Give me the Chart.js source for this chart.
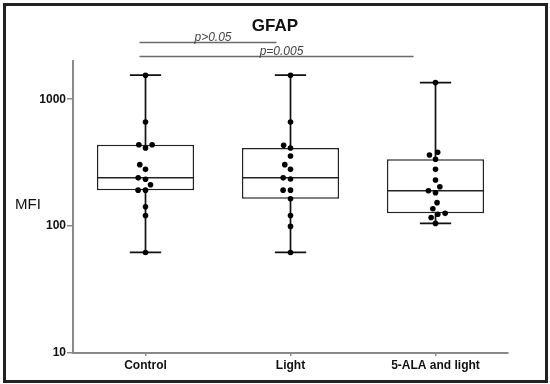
<!DOCTYPE html>
<html>
<head>
<meta charset="utf-8">
<script src="https://cdn.jsdelivr.net/npm/chart.js@4/dist/chart.umd.min.js"></script>
<style>
  body { margin: 0; background: #fff; }
  #wrap { width: 550px; height: 384px; }
</style>
</head>
<body>
<div id="wrap"><canvas id="chart" width="550" height="384"></canvas></div>
<script>
// values (MFI, 15 samples per group)
const groupLabels = ["Control", "Light", "5-ALA and light"];
const controlMFI = [1546, 662, 438, 438, 413, 305, 280, 240, 234, 212, 192, 192, 142, 121, 62];
const lightMFI = [1546, 662, 434, 413, 357, 305, 280, 240, 235, 192, 192, 164, 121, 99.5, 62];
const alaLightMFI = [1352, 382, 363, 336, 280, 231, 204, 190, 183, 153, 137, 126, 124, 117, 105];
const yTickValues = [10, 100, 1000];
const pLabels = ["p>0.05", "p=0.005"];
const pPairs = [[0, 1], [0, 2]];

const groups = [controlMFI, lightMFI, alaLightMFI];
const FONT = "'Liberation Sans', Arial, sans-serif";

// quartiles the (n+1)p way, like the stats package does
function quantile(sorted, p) {
    let pos = (sorted.length + 1) * p - 1;
    pos = Math.min(Math.max(pos, 0), sorted.length - 1);
    let lo = Math.floor(pos), hi = Math.ceil(pos);
    return sorted[lo] + (sorted[hi] - sorted[lo]) * (pos - lo);
}

const stats = groups.map(vals => {
    let s = vals.slice().sort((a, b) => a - b);
    return { min: s[0], q1: quantile(s, 0.25), med: quantile(s, 0.5), q3: quantile(s, 0.75), max: s[s.length - 1] };
});

const boxPlugin = {
    id: "boxParts",
    beforeDatasetsDraw(chart) {
        const x = chart.scales.x, y = chart.scales.y, ctx = chart.ctx;
        const catW = x.width / groupLabels.length;
        ctx.save();
        ctx.strokeStyle = "#111";
        ctx.lineWidth = 1.7;
        stats.forEach((s, g) => {
            let px = x.getPixelForValue(g);
            let capW = catW * 0.108;
            ctx.beginPath();
            ctx.moveTo(px, y.getPixelForValue(s.max));
            ctx.lineTo(px, y.getPixelForValue(s.min));
            [s.max, s.min].forEach(v => {
                let py = y.getPixelForValue(v);
                ctx.moveTo(px - capW, py);
                ctx.lineTo(px + capW, py);
            });
            ctx.stroke();
        });
        ctx.restore();
    },
    afterDatasetDraw(chart, args) {
        if (args.index !== 3) return;
        const y = chart.scales.y, ctx = chart.ctx;
        ctx.save();
        ctx.strokeStyle = "#222";
        ctx.lineWidth = 1.5;
        args.meta.data.forEach((bar, g) => {
            let py = y.getPixelForValue(stats[g].med);
            ctx.beginPath();
            ctx.moveTo(bar.x - bar.width / 2, py);
            ctx.lineTo(bar.x + bar.width / 2, py);
            ctx.stroke();
        });
        ctx.restore();
    },
    afterDraw(chart) {
        const x = chart.scales.x, area = chart.chartArea, ctx = chart.ctx;
        ctx.save();
        // outer frame
        ctx.strokeStyle = "#222";
        ctx.lineWidth = 3;
        ctx.strokeRect(4.5, 4.5, 542, 377);

        ctx.fillStyle = "#111";
        ctx.font = "bold 17px " + FONT;
        ctx.textAlign = "center";
        ctx.textBaseline = "middle";
        ctx.fillText("GFAP", chart.width / 2, 26);

        ctx.font = "15px " + FONT;
        ctx.textAlign = "left";
        ctx.fillText("MFI", 15, (area.top + area.bottom) / 2 - 2);

        // significance bars
        const lineY = [area.top - 18.5, area.top - 4.5];
        const rightInset = [14, 22];
        ctx.strokeStyle = "#6a6a6a";
        ctx.lineWidth = 1.3;
        ctx.font = "italic 12px " + FONT;
        ctx.textAlign = "center";
        ctx.textBaseline = "alphabetic";
        pPairs.forEach((pair, i) => {
            let x1 = x.getPixelForValue(pair[0]) - 6;
            let x2 = x.getPixelForValue(pair[1]) - rightInset[i];
            ctx.beginPath();
            ctx.moveTo(x1, lineY[i]);
            ctx.lineTo(x2, lineY[i]);
            ctx.stroke();
            ctx.fillStyle = "#444";
            ctx.fillText(pLabels[i], (x1 + x2) / 2 + 5, lineY[i] - 1.5);
        });
        ctx.restore();
    }
};

const pointSets = groups.map((vals, g) => ({
    type: "scatter",
    xAxisID: "xs",
    yAxisID: "y",
    data: vals.map(v => ({ x: g, y: v })),
    pointRadius: 2.8,
    pointBackgroundColor: "#000",
    pointBorderWidth: 0
}));

const chart = new Chart(document.getElementById("chart"), {
    type: "bar",
    data: {
        labels: groupLabels,
        datasets: pointSets.concat([{
            data: stats.map(s => [s.q1, s.q3]),
            backgroundColor: "#fff",
            borderColor: "#222",
            borderWidth: 1.5,
            borderSkipped: false,
            grouped: false,
            categoryPercentage: 1,
            barPercentage: 0.67
        }])
    },
    options: {
        responsive: false,
        animation: false,
        devicePixelRatio: 1,
        layout: { padding: { left: 0, right: 42, top: 61, bottom: 0 } },
        plugins: { legend: { display: false }, tooltip: { enabled: false } },
        scales: {
            x: {
                type: "category",
                offset: true,
                grid: { display: true, offset: false, drawOnChartArea: false, tickLength: 3, color: "#8a8a8a", lineWidth: 1.5 },
                border: { color: "#8a8a8a", width: 2 },
                ticks: { color: "#111", font: { family: FONT, size: 12, weight: "bold" }, padding: 2, maxRotation: 0 },
                afterFit: scale => { scale.height = 31; }
            },
            // hidden linear twin of x, so the dots can sit beside the box centre
            xs: { type: "linear", min: -0.5, max: 2.5, offset: false, display: false },
            y: {
                type: "logarithmic",
                min: 10,
                max: 2000,
                afterBuildTicks: scale => { scale.ticks = yTickValues.map(v => ({ value: v })); },
                grid: { display: true, drawOnChartArea: false, tickLength: 6, color: "#8a8a8a", lineWidth: 1.5 },
                border: { color: "#8a8a8a", width: 2 },
                ticks: { color: "#111", font: { family: FONT, size: 12, weight: "bold" }, padding: 1, callback: v => String(v) },
                afterFit: scale => { scale.width = 73; }
            }
        }
    },
    plugins: [boxPlugin]
});

// spread points sideways so they don't overlap (simple beeswarm in pixel space)
function swarm(chart) {
    const y = chart.scales.y, xs = chart.scales.xs;
    const gap = 7.4;
    groups.forEach((vals, g) => {
        let ds = chart.data.datasets[g];
        let cx = xs.getPixelForValue(g);
        let order = vals.map((v, i) => i).sort((a, b) => vals[a] - vals[b]);
        let placed = [];
        order.forEach(i => {
            let py = y.getPixelForValue(vals[i]);
            let near = placed.filter(p => Math.abs(p.y - py) < gap);
            let cands = [0];
            near.forEach(p => {
                let d = Math.sqrt(gap * gap - (p.y - py) * (p.y - py));
                cands.push(p.x - d, p.x + d);
            });
            cands.sort((a, b) => Math.abs(a) - Math.abs(b) || a - b);
            let dx = cands.find(c => near.every(p => Math.hypot(p.x - c, p.y - py) >= gap - 0.01));
            placed.push({ x: dx, y: py });
            ds.data[i].x = xs.getValueForPixel(cx + dx);
        });
    });
    chart.update("none");
}
swarm(chart);
</script>
</body>
</html>
